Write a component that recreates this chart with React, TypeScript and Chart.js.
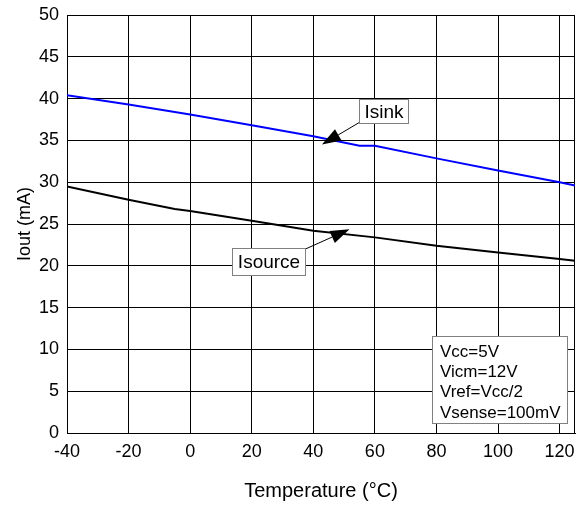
import React, { useEffect, useRef } from "react";
import { Chart, registerables } from "chart.js";

Chart.register(...registerables);

// ---- data ----
const isinkTemp = [-40, -20, 0, 20, 40, 55, 60, 80, 100, 120, 125];
const isinkValues = [40.4, 39.3, 38.1, 36.8, 35.5, 34.35, 34.35, 32.85, 31.4, 30.0, 29.6];
const isourceTemp = [-40, -20, -5, 0, 20, 40, 60, 80, 100, 120, 125];
const isourceValues = [29.5, 27.9, 26.8, 26.55, 25.4, 24.2, 23.4, 22.4, 21.6, 20.8, 20.6];

const xTicks = [-40, -20, 0, 20, 40, 60, 80, 100, 120];
const yTicks = [0, 5, 10, 15, 20, 25, 30, 35, 40, 45, 50];

const xTitle = "Temperature (°C)";
const yTitle = "Iout (mA)";
const conditionLines = ["Vcc=5V", "Vicm=12V", "Vref=Vcc/2", "Vsense=100mV"];

// annotation anchors in data units
const isinkLabel = { text: "Isink", x1: 54.9, y1: 39.95, x2: 70.8, y2: 37.1 };
const isinkArrow = { fromX: 55.2, fromY: 37.2, toX: 42.8, toY: 34.5 };
const isourceLabel = { text: "Isource", x1: 13.5, y1: 22.1, x2: 37.4, y2: 18.9 };
const isourceArrow = { fromX: 37.4, fromY: 22.0, toX: 51.75, toY: 24.37 };
const infoBox = { x1: 78.7, y1: 11.6, x2: 122.3, y2: 1.2 };

const FONT = "'Liberation Sans', Arial, sans-serif";

const framePlugin = {
  id: "frame",
  beforeDatasetsDraw(chart: any) {
    const { ctx, chartArea } = chart;
    ctx.save();
    ctx.strokeStyle = "#000";
    ctx.lineWidth = 1;
    ctx.strokeRect(
      Math.round(chartArea.left) + 0.5,
      Math.round(chartArea.top) + 0.5,
      Math.round(chartArea.right - chartArea.left) - 1,
      Math.round(chartArea.bottom - chartArea.top)
    );
    ctx.restore();
  },
};

function drawArrow(ctx: any, x0: number, y0: number, x1: number, y1: number) {
  const ang = Math.atan2(y1 - y0, x1 - x0);
  const len = 19;
  const hw = 6.5;
  const bx = x1 - len * Math.cos(ang);
  const by = y1 - len * Math.sin(ang);
  ctx.beginPath();
  ctx.moveTo(x0, y0);
  ctx.lineTo(bx, by);
  ctx.strokeStyle = "#000";
  ctx.lineWidth = 1;
  ctx.stroke();
  ctx.beginPath();
  ctx.moveTo(x1, y1);
  ctx.lineTo(bx + hw * Math.sin(ang), by - hw * Math.cos(ang));
  ctx.lineTo(bx - hw * Math.sin(ang), by + hw * Math.cos(ang));
  ctx.closePath();
  ctx.fillStyle = "#000";
  ctx.fill();
}

const annotationPlugin = {
  id: "annotations",
  afterDraw(chart: any) {
    const ctx = chart.ctx;
    const xs = chart.scales.x;
    const ys = chart.scales.y;
    const px = (v: number) => xs.getPixelForValue(v);
    const py = (v: number) => ys.getPixelForValue(v);
    ctx.save();

    drawArrow(ctx, px(isinkArrow.fromX), py(isinkArrow.fromY), px(isinkArrow.toX), py(isinkArrow.toY));
    drawArrow(ctx, px(isourceArrow.fromX), py(isourceArrow.fromY), px(isourceArrow.toX), py(isourceArrow.toY));

    const box = (b: any) => {
      const l = Math.round(px(b.x1)) + 0.5;
      const t = Math.round(py(b.y1)) + 0.5;
      const r = Math.round(px(b.x2)) + 0.5;
      const bo = Math.round(py(b.y2)) + 0.5;
      ctx.fillStyle = "#fff";
      ctx.fillRect(l, t, r - l, bo - t);
      ctx.strokeStyle = "#808080";
      ctx.lineWidth = 1;
      ctx.strokeRect(l, t, r - l, bo - t);
      return { l, t, r, bo };
    };

    [isinkLabel, isourceLabel].forEach((lab) => {
      const { l, t, r, bo } = box(lab);
      ctx.fillStyle = "#000";
      ctx.font = `19px ${FONT}`;
      ctx.textAlign = "center";
      ctx.textBaseline = "middle";
      ctx.fillText(lab.text, (l + r) / 2, (t + bo) / 2 + 1);
    });

    const ib = box(infoBox);
    ctx.fillStyle = "#000";
    ctx.font = `17px ${FONT}`;
    ctx.textAlign = "left";
    ctx.textBaseline = "middle";
    conditionLines.forEach((s, i) => {
      ctx.fillText(s, ib.l + 7.5, ib.t + 15.5 + i * 20.4);
    });
    ctx.restore();
  },
};

export default function App() {
  const ref = useRef<HTMLCanvasElement>(null);
  useEffect(() => {
    if (!ref.current) return;
    Chart.defaults.font.family = FONT;
    Chart.defaults.color = "#000";
    const chart = new Chart(ref.current, {
      type: "line",
      data: {
        datasets: [
          {
            label: "Isink",
            data: isinkTemp.map((t, i) => ({ x: t, y: isinkValues[i] })),
            borderColor: "#0000ff",
            borderWidth: 2,
            pointRadius: 0,
            tension: 0,
            fill: false,
          },
          {
            label: "Isource",
            data: isourceTemp.map((t, i) => ({ x: t, y: isourceValues[i] })),
            borderColor: "#000000",
            borderWidth: 2,
            pointRadius: 0,
            tension: 0,
            fill: false,
          },
        ],
      },
      options: {
        responsive: false,
        animation: false,
        devicePixelRatio: 1,
        layout: { padding: { top: 15, right: 1, left: 0, bottom: 0 } },
        plugins: {
          legend: { display: false },
          tooltip: { enabled: false },
        },
        scales: {
          x: {
            type: "linear",
            min: -40,
            max: 125,
            afterBuildTicks: (scale: any) => {
              scale.ticks = xTicks.map((v) => ({ value: v }));
            },
            afterFit: (scale: any) => {
              scale.height = 75;
              scale.paddingLeft = 0;
              scale.paddingRight = 0;
            },
            grid: { color: "#000", lineWidth: 1, drawTicks: false },
            border: { color: "#000", width: 1 },
            ticks: {
              font: { size: 18 },
              color: "#000",
              padding: 8,
              maxRotation: 0,
              autoSkip: false,
            },
            title: {
              display: true,
              text: xTitle,
              font: { size: 20 },
              color: "#000",
              padding: { top: 0, bottom: 5 },
            },
          },
          y: {
            type: "linear",
            min: 0,
            max: 50,
            afterBuildTicks: (scale: any) => {
              scale.ticks = yTicks.map((v) => ({ value: v }));
            },
            afterFit: (scale: any) => {
              scale.width = 67;
              scale.paddingTop = 0;
              scale.paddingBottom = 0;
            },
            grid: { color: "#000", lineWidth: 1, drawTicks: false },
            border: { color: "#000", width: 1 },
            ticks: {
              font: { size: 18 },
              color: "#000",
              padding: 8,
              autoSkip: false,
            },
            title: {
              display: true,
              text: yTitle,
              font: { size: 18 },
              color: "#000",
              padding: { top: 14, bottom: 0 },
            },
          },
        },
      } as any,
      plugins: [framePlugin, annotationPlugin],
    });
    return () => chart.destroy();
  }, []);
  return (
    <div style={{ position: "absolute", left: 0, top: 0, width: 576, height: 508, background: "#fff" }}>
      <canvas ref={ref} width={576} height={508} style={{ display: "block" }} />
    </div>
  );
}
